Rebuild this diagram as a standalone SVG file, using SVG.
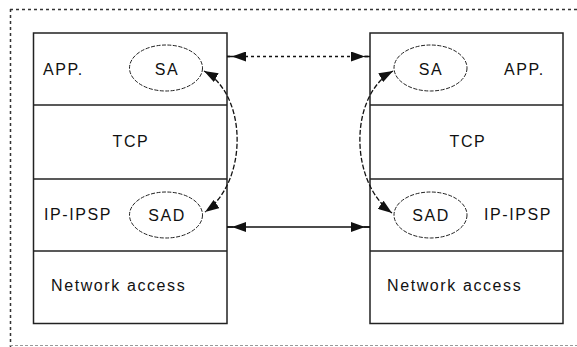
<svg xmlns="http://www.w3.org/2000/svg" width="577" height="347" viewBox="0 0 577 347">
  <defs>
    <style>
      .layer { fill: #ffffff; stroke: #222222; stroke-width: 1.5; }
      .div { stroke: #222222; stroke-width: 1.5; }
      .ell { fill: #ffffff; stroke: #222222; stroke-width: 1; stroke-dasharray: 4 1.5; }
      .lbl { font-family: "Liberation Sans", Arial, sans-serif; font-size: 16px; letter-spacing: 1.6px; fill: #111111; }
      .mid { text-anchor: middle; }
      .conn { fill: none; stroke: #111111; stroke-width: 1.3; }
      .dotted { stroke-dasharray: 3 3; }
      .curve { stroke-dasharray: 5 2; }
    </style>
    <!-- arrowhead with a short solid stub where it meets the stack edge -->
    <marker id="headStub" viewBox="0 0 19 10" refX="19" refY="5" markerWidth="19" markerHeight="10" markerUnits="userSpaceOnUse" orient="auto-start-reverse">
      <path d="M0,0 L14,5 L0,10 Z M13,4.2 H19 V5.8 H13 Z" fill="#111111"/>
    </marker>
    <marker id="head" viewBox="0 0 14 10" refX="14" refY="5" markerWidth="14" markerHeight="10" markerUnits="userSpaceOnUse" orient="auto-start-reverse">
      <path d="M0,0 L14,5 L0,10 Z" fill="#111111"/>
    </marker>
  </defs>

  <rect width="577" height="347" fill="#ffffff"/>

  <!-- surrounding dotted frame -->
  <g id="frame" fill="none">
    <path d="M10,9.5 H577" stroke="#333333" stroke-width="1.5" stroke-dasharray="3 3"/>
    <path d="M10.5,9 V347" stroke="#333333" stroke-width="1.5" stroke-dasharray="3 3"/>
    <path d="M10,345.5 H577" stroke="#999999" stroke-width="1" stroke-dasharray="3 2"/>
  </g>

  <!-- left protocol stack -->
  <g id="stack-left">
    <rect class="layer" x="33.5" y="33" width="193.5" height="290.5"/>
    <line class="div" x1="33.5" y1="105" x2="227" y2="105"/>
    <line class="div" x1="33.5" y1="179" x2="227" y2="179"/>
    <line class="div" x1="33.5" y1="251" x2="227" y2="251"/>
    <text class="lbl" x="43" y="75">APP.</text>
    <text class="lbl mid" x="131" y="147">TCP</text>
    <text class="lbl" x="44" y="220">IP-IPSP</text>
    <text class="lbl" x="51" y="291">Network access</text>
  </g>
  <g id="sa-left">
    <ellipse class="ell" cx="166" cy="68" rx="36.5" ry="23"/>
    <text class="lbl mid" x="167" y="75">SA</text>
  </g>
  <g id="sad-left">
    <ellipse class="ell" cx="166" cy="215" rx="36.5" ry="23"/>
    <text class="lbl mid" x="167" y="221">SAD</text>
  </g>

  <!-- right protocol stack -->
  <g id="stack-right">
    <rect class="layer" x="370" y="33" width="193" height="290.5"/>
    <line class="div" x1="370" y1="105" x2="563" y2="105"/>
    <line class="div" x1="370" y1="179" x2="563" y2="179"/>
    <line class="div" x1="370" y1="251" x2="563" y2="251"/>
    <text class="lbl" x="504" y="75">APP.</text>
    <text class="lbl mid" x="468" y="147">TCP</text>
    <text class="lbl" x="484" y="220">IP-IPSP</text>
    <text class="lbl" x="387" y="291">Network access</text>
  </g>
  <g id="sa-right">
    <ellipse class="ell" cx="430.5" cy="68" rx="36.5" ry="23"/>
    <text class="lbl mid" x="431" y="75">SA</text>
  </g>
  <g id="sad-right">
    <ellipse class="ell" cx="430.5" cy="215" rx="36.5" ry="23"/>
    <text class="lbl mid" x="431" y="221">SAD</text>
  </g>

  <!-- connectors -->
  <g id="connectors">
    <line class="conn dotted" x1="227" y1="56.5" x2="370" y2="56.5" marker-start="url(#headStub)" marker-end="url(#headStub)"/>
    <line class="conn" x1="227" y1="227" x2="370" y2="227" marker-start="url(#headStub)" marker-end="url(#headStub)"/>
    <path class="conn curve" d="M204,71 C248,95 248,182 205,212" marker-start="url(#head)" marker-end="url(#head)"/>
    <path class="conn curve" d="M393,71 C349,95 349,182 392,213" marker-start="url(#head)" marker-end="url(#head)"/>
  </g>
</svg>
